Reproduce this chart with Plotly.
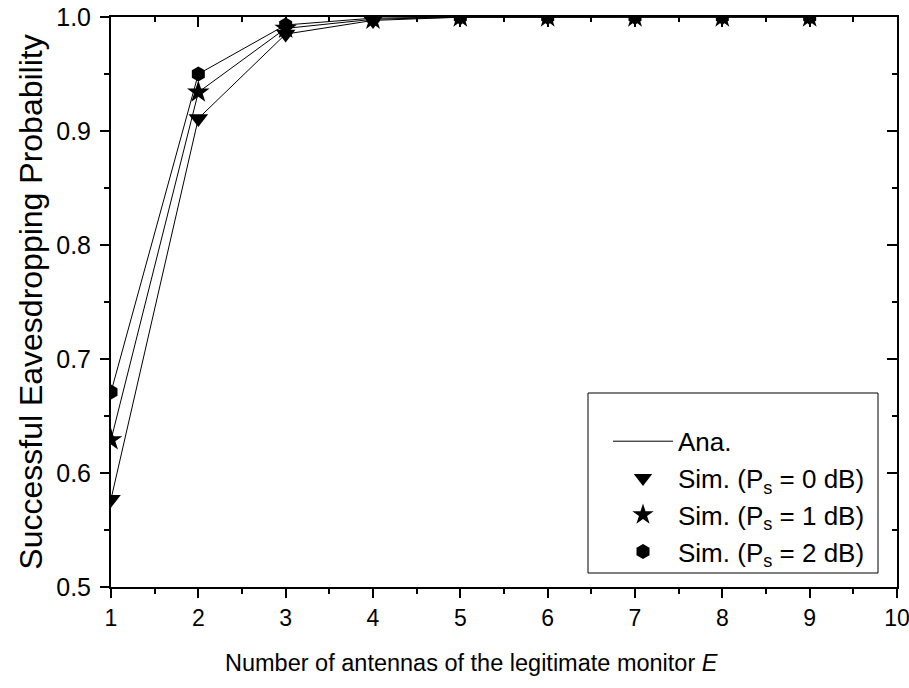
import plotly.graph_objects as go

E = [1, 2, 3, 4, 5, 6, 7, 8, 9]
p0 = [0.577, 0.911, 0.985, 0.997, 0.9998, 1.0, 1.0, 1.0, 1.0]
p1 = [0.629, 0.934, 0.990, 0.998, 0.9999, 1.0, 1.0, 1.0, 1.0]
p2 = [0.671, 0.950, 0.993, 0.999, 1.0, 1.0, 1.0, 1.0, 1.0]

series = [
    ("Sim. (P<sub>s</sub> = 0 dB)", p0, "triangle-down", 17),
    ("Sim. (P<sub>s</sub> = 1 dB)", p1, "star", 17),
    ("Sim. (P<sub>s</sub> = 2 dB)", p2, "hexagon", 15),
]

FONT = "Liberation Sans, Arial, sans-serif"
fig = go.Figure()

# empty first legend row (blank space at top of the legend box)
fig.add_trace(go.Scatter(x=[None], y=[None], mode="lines", name=" ",
                         line=dict(color="rgba(0,0,0,0)", width=0), showlegend=True))

for i, (name, ys, sym, sz) in enumerate(series):
    fig.add_trace(go.Scatter(x=E, y=ys, mode="lines", name="Ana.",
                             line=dict(color="black", width=1),
                             showlegend=(i == 0)))
for name, ys, sym, sz in series:
    fig.add_trace(go.Scatter(x=E, y=ys, mode="markers", name=name,
                             marker=dict(symbol=sym, color="black", size=sz,
                                         line=dict(width=0))))

# dummy trace for mirrored inside ticks
fig.add_trace(go.Scatter(x=[1], y=[0.5], xaxis="x2", yaxis="y2",
                         mode="markers", marker=dict(opacity=0), showlegend=False,
                         hoverinfo="skip"))

axis_common = dict(showline=True, linecolor="black", linewidth=2, showgrid=False,
                   zeroline=False, ticks="outside", ticklen=9, tickwidth=2,
                   tickcolor="black", automargin=False, ticklabeloverflow="allow")

fig.update_layout(
    width=909, height=688,
    paper_bgcolor="white", plot_bgcolor="white",
    margin=dict(l=111, r=12, t=17, b=101),
    font=dict(family=FONT, color="black"),
    xaxis=dict(range=[1, 10], dtick=1, tick0=1,
               tickfont=dict(family=FONT, size=23, color="black"),
               minor=dict(dtick=0.5, ticks="outside", ticklen=5, tickwidth=2, tickcolor="black"),
               **axis_common),
    yaxis=dict(range=[0.5, 1.0], dtick=0.1, tick0=0.5, tickformat=".1f",
               tickfont=dict(family=FONT, size=25, color="black"),
               ticklabelstandoff=4,
               minor=dict(dtick=0.05, ticks="outside", ticklen=5, tickwidth=2, tickcolor="black"),
               title=dict(text="Successful Eavesdropping Probability",
                          font=dict(family=FONT, size=32, color="black"), standoff=4),
               **axis_common),
    xaxis2=dict(range=[1, 10], overlaying="x", side="top", anchor="y2",
                showline=True, linecolor="black", linewidth=2, showgrid=False, zeroline=False,
                ticks="inside", ticklen=10, tickwidth=2, tickcolor="black", dtick=1, tick0=1,
                showticklabels=False, automargin=False,
                minor=dict(dtick=0.5, ticks="inside", ticklen=5, tickwidth=2, tickcolor="black")),
    yaxis2=dict(range=[0.5, 1.0], overlaying="y", side="right", anchor="x2",
                showline=True, linecolor="black", linewidth=2, showgrid=False, zeroline=False,
                ticks="inside", ticklen=10, tickwidth=2, tickcolor="black", dtick=0.1, tick0=0.5,
                showticklabels=False, automargin=False,
                minor=dict(dtick=0.05, ticks="inside", ticklen=5, tickwidth=2, tickcolor="black")),
    legend=dict(x=(608 - 111) / 786, y=(587 - 381) / 570, xanchor="left", yanchor="top",
                bgcolor="rgba(0,0,0,0)", borderwidth=0,
                font=dict(family=FONT, size=26, color="black"),
                itemwidth=60, tracegroupgap=0),
    shapes=[dict(type="rect", xref="paper", yref="paper",
                 x0=(588 - 111) / 786, x1=(878 - 111) / 786,
                 y0=(587 - 573) / 570, y1=(587 - 393) / 570,
                 line=dict(color="black", width=1), fillcolor="white", layer="above")],
    annotations=[dict(text="Number of antennas of the legitimate monitor <i>E</i>",
                      xref="paper", yref="paper", x=(471 - 111) / 786, y=0,
                      xanchor="center", yanchor="middle", yshift=-76, showarrow=False,
                      font=dict(family=FONT, size=23.5, color="black"))],
)

fig.write_html("out.html", config={"displayModeBar": False},
               post_script="document.body.style.margin='0';")
